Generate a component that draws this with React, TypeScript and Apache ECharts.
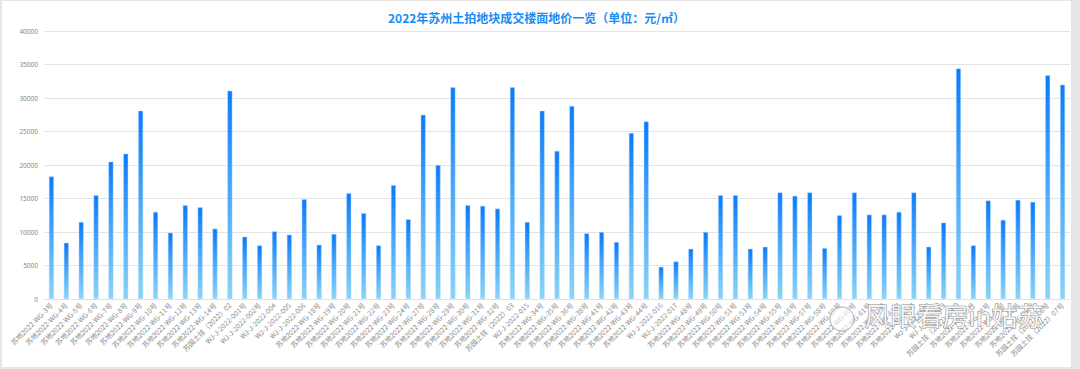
import React, { useEffect, useRef } from "react";
import * as echarts from "echarts";

const titleText = "2022年苏州土拍地块成交楼面地价一览（单位：元/㎡）";

const categories: string[] = [
  "苏地2022-WG-3号", "苏地2022-WG-4号", "苏地2022-WG-5号", "苏地2022-WG-6号", "苏地2022-WG-7号",
  "苏地2022-WG-8号", "苏地2022-WG-9号", "苏地2022-WG-10号", "苏地2022-WG-11号", "苏地2022-WG-12号",
  "苏地2022-WG-13号", "苏地2022-WG-14号", "苏园土挂（2022）02", "WJ-J-2022-001号", "WJ-J-2022-002号",
  "WJ-J-2022-004", "WJ-J-2022-005", "WJ-J-2022-006", "苏地2022-WG-18号", "苏地2022-WG-19号",
  "苏地2022-WG-20号", "苏地2022-WG-21号", "苏地2022-WG-22号", "苏地2022-WG-23号", "苏地2022-WG-24号",
  "苏地2022-WG-27号", "苏地2022-WG-28号", "苏地2022-WG-29号", "苏地2022-WG-30号", "苏地2022-WG-31号",
  "苏地2022-WG-32号", "苏园土挂（2022）03", "WJ-J-2022-015", "苏地2022-WG-34号", "苏地2022-WG-35号",
  "苏地2022-WG-36号", "苏地2022-WG-38号", "苏地2022-WG-41号", "苏地2022-WG-42号", "苏地2022-WG-43号",
  "苏地2022-WG-44号", "WJ-J-2022-016", "WJ-J-2022-017", "苏地2022-WG-48号", "苏地2022-WG-49号",
  "苏地2022-WG-50号", "苏地2022-WG-51号", "苏地2022-WG-53号", "苏地2022-WG-54号", "苏地2022-WG-55号",
  "苏地2022-WG-56号", "苏地2022-WG-57号", "苏地2022-WG-58号", "苏地2022-WG-59号", "苏地2022-WG-60号",
  "苏地2022-WG-61号", "苏地2022-WG-62号", "苏地2022-WG-63号", "苏地2022-WG-64号", "WJ-J-2022-018",
  "WJ-J-2022-019", "苏园土挂（2022）04号", "苏地2022-WG-65号", "苏地2022-WG-66号", "苏地2022-WG-67号",
  "苏地2022-WG-68号", "苏地2022-WG-69号", "苏园土挂（2022）06号", "苏园土挂（2022）07号",
];

const prices: number[] = [
  18300, 8400, 11500, 15500, 20500, 21700, 28100, 13000, 9900, 14000,
  13700, 10500, 31100, 9300, 8000, 10100, 9600, 14900, 8100, 9700,
  15800, 12800, 8000, 17000, 11900, 27500, 20000, 31600, 14000, 13900,
  13500, 31600, 11500, 28100, 22100, 28800, 9800, 10000, 8500, 24800,
  26500, 4800, 5600, 7500, 10000, 15500, 15500, 7500, 7800, 15900,
  15400, 15900, 7600, 12500, 15900, 12600, 12600, 13000, 15900, 7800,
  11400, 34400, 8000, 14700, 11800, 14800, 14500, 33400, 32000,
];

const yMax = 40000;
const yStep = 5000;
const watermarkText = "风眼看房in姑苏";

export default function App() {
  const ref = useRef<HTMLDivElement>(null);

  useEffect(() => {
    document.body.style.margin = "0";
    if (!ref.current) return;
    const chart = echarts.init(ref.current, undefined, { renderer: "svg" });
    chart.setOption({
      animation: false,
      backgroundColor: "#ffffff",
      title: {
        text: titleText,
        left: "center",
        top: 5,
        textStyle: {
          fontSize: 12,
          fontWeight: "bold",
          color: "#1a8cf5",
          fontFamily: "Noto Sans CJK SC",
        },
      },
      grid: { left: 42, right: 1, top: 30, bottom: 68 },
      xAxis: {
        type: "category",
        data: categories,
        axisTick: { show: false },
        axisLine: { lineStyle: { color: "#e2e2e2" } },
        axisLabel: {
          interval: 0,
          rotate: 45,
          fontSize: 7,
          color: "#8c8c8c",
          margin: 5,
          fontFamily: "Noto Sans CJK SC",
        },
      },
      yAxis: {
        type: "value",
        min: 0,
        max: yMax,
        interval: yStep,
        axisLine: { show: false },
        axisTick: { show: false },
        axisLabel: {
          fontSize: 6.5,
          color: "#888888",
          margin: 6,
          fontFamily: "Noto Sans",
          formatter: (v: number) => String(v),
        },
        splitLine: { lineStyle: { color: "#e4e4e4" } },
      },
      series: [
        {
          type: "bar",
          data: prices,
          barWidth: 5,
          itemStyle: {
            color: new echarts.graphic.LinearGradient(0, 0, 0, 1, [
              { offset: 0, color: "#0a7afc" },
              { offset: 0.5, color: "#4aa8fa" },
              { offset: 1, color: "#8ad5f5" },
            ]),
            borderColor: "rgba(170,215,255,0.8)",
            borderWidth: 0.6,
          },
        },
      ],
      graphic: [
        {
          type: "circle",
          shape: { cx: 840, cy: 318, r: 12 },
          style: { fill: "rgba(255,255,255,0.6)", stroke: "#b0b0b0", lineWidth: 1 },
          z: 100,
        },
        {
          type: "text",
          left: 862,
          top: 300,
          style: {
            text: watermarkText,
            fontSize: 26,
            fontFamily: "Noto Sans CJK SC",
            fill: "rgba(255,255,255,0.85)",
            stroke: "#8c8c8c",
            lineWidth: 1,
          },
          z: 100,
        },
      ],
    });
    return () => chart.dispose();
  }, []);

  return (
    <div style={{ width: 1080, height: 369, background: "#e6e6e6", position: "relative" }}>
      <div
        ref={ref}
        style={{ position: "absolute", left: 2, top: 1, width: 1069, height: 366 }}
      />
    </div>
  );
}
